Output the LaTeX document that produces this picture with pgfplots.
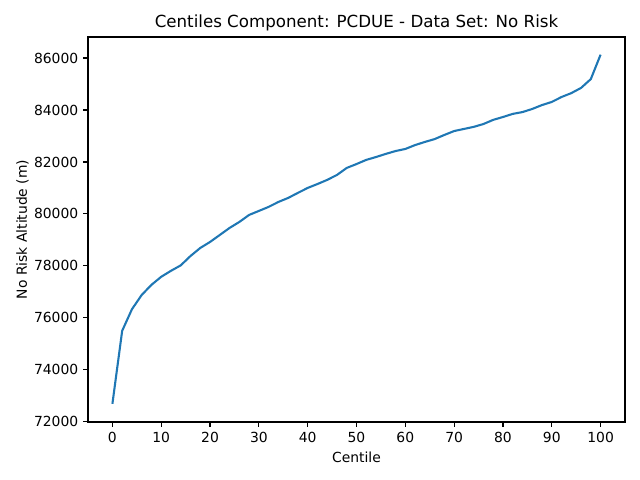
\documentclass[border=0pt]{standalone}
\usepackage{pgfplots}
\pgfplotsset{compat=1.18}
\usepackage{fontspec}
\setmainfont{DejaVu Sans}
\definecolor{mplblue}{HTML}{1F77B4}
\begin{document}
\begin{tikzpicture}
\useasboundingbox (0,0) rectangle (460.8pt,345.6pt);
\begin{axis}[
  at={(63.36pt,41.76pt)}, anchor=south west,
  scale only axis, width=386.64pt, height=277.2pt,
  xmin=-5, xmax=105, ymin=71990, ymax=86810,
  xtick={0,10,...,100},
  ytick={72000,74000,...,86000},
  scaled y ticks=false,
  /pgf/number format/assume math mode=true,
  yticklabel style={/pgf/number format/.cd,fixed,1000 sep={}},
  tick align=outside, major tick length=3.5pt,
  xtick pos=left, ytick pos=left,
  tick style={black, line width=0.8pt},
  axis line style={line width=0.8pt},
  every tick label/.append style={font=\fontsize{10}{12}\selectfont},
  label style={font=\fontsize{10}{12}\selectfont},
  ylabel style={yshift=-3pt},
  title style={font=\fontsize{12}{14}\selectfont, yshift=-5pt},
  title={Centiles Component: PCDUE - Data Set: No Risk},
  xlabel={Centile},
  ylabel={No Risk Altitude (m)},
]
\addplot[mplblue, line width=1.5pt, no marks] coordinates {
(0,72690) (2,75500) (4,76330) (6,76880) (8,77270) (10,77580) (12,77810) (14,78020)
(16,78380) (18,78690) (20,78920) (22,79190) (24,79460) (26,79690) (28,79960)
(30,80115) (32,80270) (34,80460) (36,80615) (38,80810) (40,81000) (42,81150)
(44,81310) (46,81500) (48,81770) (50,81920) (52,82080) (54,82190) (56,82310)
(58,82420) (60,82500) (62,82650) (64,82770) (66,82880) (68,83040) (70,83190)
(72,83270) (74,83350) (76,83460) (78,83620) (80,83730) (82,83850) (84,83920)
(86,84040) (88,84190) (90,84310) (92,84500) (94,84650) (96,84850) (98,85190)
(100,86130)
};
\end{axis}
\end{tikzpicture}
\end{document}
